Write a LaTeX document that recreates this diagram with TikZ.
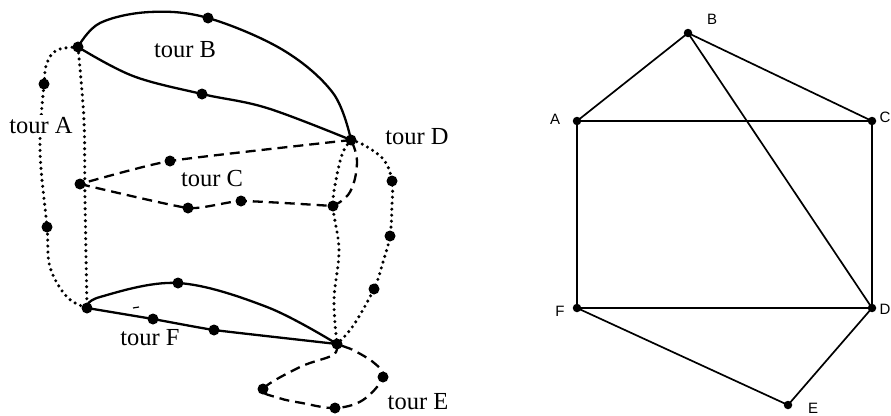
\documentclass[tikz,border=0pt]{standalone}
\usepackage{fontspec}
\setmainfont{Liberation Serif}
\newfontfamily\sansf{Liberation Sans}
\begin{document}
\begin{tikzpicture}[x=1pt,y=-1pt,
  bigdot/.style={circle,fill=black,inner sep=0pt,minimum size=11pt},
  smalldot/.style={circle,fill=black,inner sep=0pt,minimum size=8.5pt},
  solidline/.style={line width=2.3pt},
  dotline/.style={line width=3.4pt,line cap=round,dash pattern=on 0pt off 6pt},
  dashline/.style={line width=2.3pt,dash pattern=on 10pt off 6pt},
  tourlbl/.style={font=\fontsize{24.5}{27}\selectfont,inner sep=0pt},
  glbl/.style={font=\sansf\fontsize{15}{17}\selectfont,inner sep=0pt},
  gedge/.style={line width=1.7pt}]
\useasboundingbox (0,0) rectangle (891,415);

% ---------- left: tours ----------
\node[bigdot] (a1) at (78,47) {};
\node[bigdot] (b1) at (208,18) {};
\node[bigdot] (b2) at (202,94) {};
\node[bigdot] (d0) at (351,140) {};
\node[bigdot] (aL1) at (44,84) {};
\node[bigdot] (aL2) at (47,227) {};
\node[bigdot] (c0) at (80,184) {};
\node[bigdot] (c1) at (170,161) {};
\node[bigdot] (c2) at (188,208) {};
\node[bigdot] (c3) at (241,201) {};
\node[bigdot] (c4) at (333,206) {};
\node[bigdot] (dR1) at (392,181) {};
\node[bigdot] (dR2) at (390,236) {};
\node[bigdot] (dR3) at (374,289) {};
\node[bigdot] (f0) at (87,308) {};
\node[bigdot] (f1) at (178,283) {};
\node[bigdot] (f2) at (153,319) {};
\node[bigdot] (f3) at (214,330) {};
\node[bigdot] (e0) at (337,344) {};
\node[bigdot] (e1) at (383,377) {};
\node[bigdot] (e2) at (263,389) {};
\node[bigdot] (e3) at (335,408) {};
\coordinate (fend) at (351,349);

% tour B
\draw[solidline] plot[smooth,tension=0.6] coordinates {(a1.center) (100,23) (150,12) (b1.center) (283,50) (333,93) (d0.center)};
\draw[solidline] plot[smooth,tension=0.6] coordinates {(a1.center) (133,76) (b2.center) (267,108) (d0.center)};
% tour A
\draw[dotline] plot[smooth,tension=0.6] coordinates {(a1.center) (57,50) (47,63) (aL1.center) (40,150) (aL2.center) (50,267) (67,297) (f0.center)};
\draw[dotline] plot[smooth,tension=0.5] coordinates {(a1.center) (84,120) (85,200) (f0.center)};
% tour C
\draw[dashline] plot[smooth,tension=0.3] coordinates {(d0.center) (c1.center) (c0.center)};
\draw[dashline] plot[smooth,tension=0.3] coordinates {(c0.center) (c2.center) (c3.center) (c4.center)};
\draw[dashline] plot[smooth,tension=0.7] coordinates {(c4.center) (350,192) (357,162) (d0.center)};
% tour D
\draw[dotline] plot[smooth,tension=0.6] coordinates {(d0.center) (364,145) (384,160) (dR1.center) (392,205) (dR2.center) (383,262) (dR3.center) (353,326) (e0.center)};
\draw[dotline] plot[smooth,tension=0.6] coordinates {(d0.center) (343,152) (337,175) (c4.center) (339,250) (334,300) (e0.center)};
% tour F
\draw[solidline] plot[smooth,tension=0.6] coordinates {(f0.center) (100,297) (f1.center) (267,307) (e0.center)};
\draw[solidline] plot[smooth,tension=0.2] coordinates {(f0.center) (f2.center) (f3.center) (e0.center)};
\draw[solidline] (e0.center) -- (fend);
\draw[line width=1.2pt] (133,308) -- (139,307);
% tour E
\draw[dashline] plot[smooth,tension=0.6] coordinates {(e0.center) (333,355) (300,367) (e2.center) (279,398) (302,403) (e3.center) (363,400) (e1.center) (373,362) (fend)};

% labels
\node[tourlbl] (lB) at (185,50) {tour B};
\node[tourlbl,fill=white,inner xsep=0pt,inner ysep=3pt] (lA) at (41,126) {tour A};
\node[tourlbl] (lD) at (417,137) {tour D};
\node[tourlbl] (lC) at (212,179) {tour C};
\node[tourlbl] (lF) at (150,338) {tour F};
\node[tourlbl] (lE) at (418,402) {tour E};

% ---------- right: graph ----------
\node[smalldot] (B) at (688,33) {};
\node[smalldot] (A) at (577,121) {};
\node[smalldot] (C) at (872,121) {};
\node[smalldot] (F) at (577,308) {};
\node[smalldot] (D) at (872,308) {};
\node[smalldot] (E) at (788,405) {};
\node[glbl] (tB) at (712,19) {B};
\node[glbl] (tA) at (555,119) {A};
\node[glbl] (tC) at (885,117) {C};
\node[glbl] (tF) at (560,311) {F};
\node[glbl] (tD) at (885,309) {D};
\node[glbl] (tE) at (813,408) {E};
\draw[gedge] (A.center) -- (B.center) -- (C.center) -- (A.center);
\draw[gedge] (B.center) -- (D.center);
\draw[gedge] (A.center) -- (F.center) -- (D.center) -- (C.center);
\draw[gedge] (F.center) -- (E.center) -- (D.center);
\end{tikzpicture}
\end{document}
